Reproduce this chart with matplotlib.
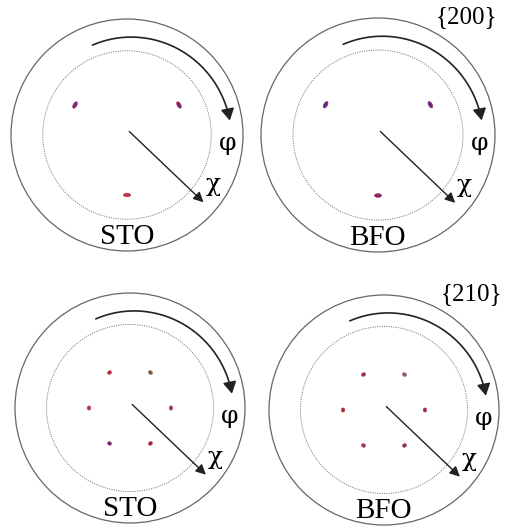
import numpy as np
import matplotlib.pyplot as plt
from matplotlib.patches import Circle, Ellipse, FancyArrowPatch
from matplotlib.path import Path

plt.rcParams['font.family'] = ['Liberation Serif', 'DejaVu Serif']

# pole figure spots: phi (deg), chi (deg)
phi_200 = [30, 150, 270]
chi_200 = [54.7, 54.7, 54.7]
phi_210 = [0, 60, 120, 180, 240, 300]
chi_210 = [39.2, 39.2, 39.2, 39.2, 39.2, 39.2]
chi_ring = 72  # dotted ring

materials = ["STO", "BFO"]
reflections = ["{200}", "{210}"]

# panel centers / radius in pixels (figure 507x528)
W, H = 507, 528
panels = [
    ((127, 135, 116), 0, materials[0], None),
    ((378, 135, 117), 0, materials[1], reflections[0]),
    ((130, 408, 115), 1, materials[0], None),
    ((384, 410, 115), 1, materials[1], reflections[1]),
]

colors_200 = {"STO": ["#6b2a8c", "#6b2a8c", "#b8344a"],
              "BFO": ["#5a2a8e", "#5a2a8e", "#7a2a70"]}
colors_210 = {"STO": ["#a83240", "#3e7a3a", "#b02a36", "#a04050", "#6a2a7a", "#8a2a3a"],
              "BFO": ["#8a3050", "#707070", "#9a2a40", "#a02a3a", "#9a3a50", "#6a3a7a"]}


def stereo(chi):
    return np.tan(np.radians(np.asarray(chi)) / 2)


fig = plt.figure(figsize=(W / 100, H / 100), dpi=100)

for (cx, cy, R), row, mat, refl in panels:
    lim = 1.08
    size = 2 * lim * R
    ax = fig.add_axes([(cx - lim * R) / W, 1 - (cy + lim * R) / H, size / W, size / H])
    ax.set_xlim(-lim, lim)
    ax.set_ylim(-lim, lim)
    ax.set_aspect('equal')
    ax.axis('off')

    ax.add_patch(Circle((0, 0), 1.0, fill=False, ec='#666666', lw=0.9))
    ax.add_patch(Circle((0, 0), stereo(chi_ring), fill=False, ec='#808080',
                        lw=0.7, ls=(0, (1.2, 1.2))))

    if row == 0:
        phi, chi, cols = phi_200, chi_200, colors_200[mat]
        w, h = 0.062, 0.032
    else:
        phi, chi, cols = phi_210, chi_210, colors_210[mat]
        w, h = 0.036, 0.030
    r = stereo(chi)
    th = np.radians(phi)
    for xi, yi, p, c in zip(r * np.cos(th), r * np.sin(th), phi, cols):
        ax.add_patch(Ellipse((xi, yi), w, h, angle=p + 90, fc=c, ec='#c03048', lw=0.4))

    # phi rotation arrow (slowly widening arc)
    t = np.radians(np.linspace(111, 8, 60))
    rr = np.linspace(0.83, 0.895, 60)
    verts = np.column_stack([rr * np.cos(t), rr * np.sin(t)])
    ax.add_patch(FancyArrowPatch(path=Path(verts),
                                 arrowstyle="-|>,head_length=7,head_width=4",
                                 color='#222222', lw=1.2))
    # chi radial arrow
    ax.add_patch(FancyArrowPatch((0.02, 0.03), (0.66, -0.58),
                                 arrowstyle="-|>,head_length=6,head_width=3",
                                 color='#222222', lw=1.0, shrinkA=0, shrinkB=0))

    ax.text(0.87, -0.07, "φ", fontsize=18, ha='center', va='center',
            family=['DejaVu Serif'])
    ax.text(0.74, -0.43, "χ", fontsize=18, ha='center', va='center',
            family=['DejaVu Serif'])
    ax.text(0.0, -0.88, mat, fontsize=21, ha='center', va='center')
    if refl:
        ax.text(0.76, 1.01, refl, fontsize=18, ha='center', va='center')

fig.savefig("out.png", dpi=100)
